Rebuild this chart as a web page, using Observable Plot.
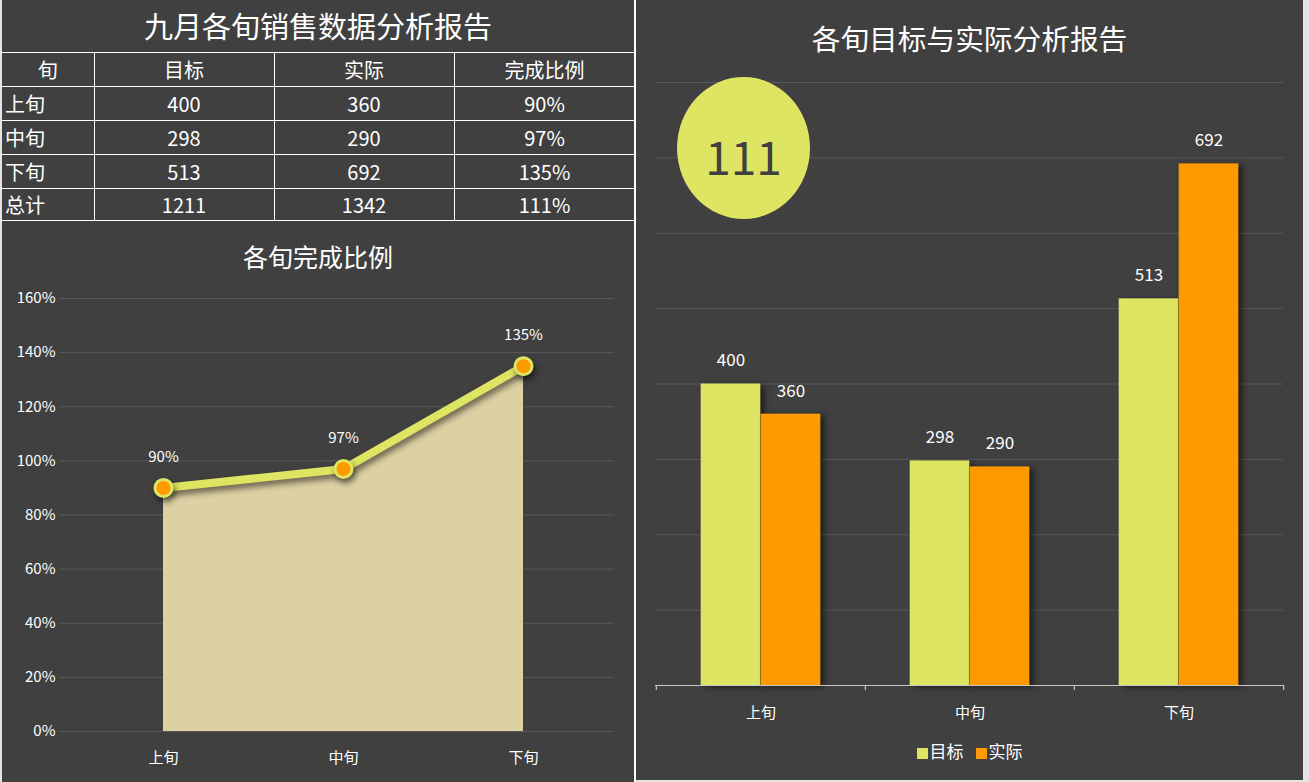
<!DOCTYPE html>
<html>
<head>
<meta charset="utf-8">
<script src="https://cdn.jsdelivr.net/npm/d3@7"></script>
<script src="https://cdn.jsdelivr.net/npm/@observablehq/plot@0.6"></script>
<style>
  html, body { margin: 0; padding: 0; }
  body { width: 1309px; height: 782px; background: #e4e4e4; position: relative; overflow: hidden;
         font-family: "Noto Sans CJK SC", "Noto Sans", sans-serif; color: #fff; }
  .abs { position: absolute; }
  #left { left: 2px; top: 0; width: 632px; height: 782px; background: #404040; }
  #divider { left: 634px; top: 0; width: 2px; height: 782px; background: #ffffff; }
  #right { left: 636px; top: 0; width: 667px; height: 780px; background: #404040; }
  #title1 { left: 2px; top: 0; width: 632px; height: 52px; line-height: 50px; text-align: center; font-size: 29px; }
  table { border-collapse: collapse; table-layout: fixed; }
  #tbl { left: 2px; top: 52px; width: 633px; }
  #tbl td { border: 1px solid #fff; color: #fff; font-size: 20px; text-align: center; padding: 0; height: 33px; line-height: 32px; }
  #tbl tr:first-child td { border-top: 1px solid #fff; }
  #tbl td:first-child { border-left: none; text-align: left; padding-left: 3px; }
  #tbl tr.hdr td:first-child { text-align: center; padding-left: 0; }
  #title2 { left: 2px; top: 238px; width: 632px; text-align: center; font-size: 25px; line-height: 36px; }
  #title3 { left: 636px; top: 18px; width: 667px; text-align: center; font-size: 28.7px; line-height: 40px; }
  #badge { left: 677px; top: 77px; width: 133px; height: 142px; border-radius: 50%; background: #dde562;
           color: #404040; font-size: 46px; text-align: center; line-height: 156px; }
  #legend { left: 636px; top: 738px; width: 667px; text-align: center; font-size: 17px; line-height: 26px; }
  #legend span.sw { display: inline-block; width: 11px; height: 11px; margin-right: 2px; vertical-align: -1px; }
  #legend span.it { margin: 0 6px; }
</style>
</head>
<body>
<div id="left" class="abs"></div>
<div id="divider" class="abs"></div>
<div id="right" class="abs"></div>
<div id="title1" class="abs">九月各旬销售数据分析报告</div>
<table id="tbl" class="abs"></table>
<div id="title2" class="abs">各旬完成比例</div>
<div id="chart1" class="abs" style="left:0;top:280px;"></div>
<div id="title3" class="abs">各旬目标与实际分析报告</div>
<div id="chart2" class="abs" style="left:636px;top:60px;"></div>
<div id="badge" class="abs"></div>
<div id="legend" class="abs"></div>
<script>
// ---- data ----
const periods = ["上旬", "中旬", "下旬"];
const targets = [400, 298, 513];
const actuals = [360, 290, 692];
const ratios = [0.90, 0.97, 1.35];
const ratioLabels = ["90%", "97%", "135%"];
const totalLabel = "总计";
const totalTarget = 1211;
const totalActual = 1342;
const totalRatioLabel = "111%";
const totalRatioBadge = "111";
const tableHeader = ["旬", "目标", "实际", "完成比例"];
const seriesNames = ["目标", "实际"];
const yTicksLeft = [0, 0.2, 0.4, 0.6, 0.8, 1.0, 1.2, 1.4, 1.6];
const yGridRight = [100, 200, 300, 400, 500, 600, 700, 800];

const YELLOW = "#dde562";
const ORANGE = "#ff9900";
const BEIGE = "#ddd0a3";
const GRID = "#595959";
const FONT = '"Noto Sans CJK SC", "Noto Sans", sans-serif';

// ---- table ----
const tbl = document.getElementById("tbl");
const colW = [92, 180, 180, 181];
const cg = document.createElement("colgroup");
colW.forEach(w => { const c = document.createElement("col"); c.style.width = w + "px"; cg.appendChild(c); });
tbl.appendChild(cg);
const rows = [tableHeader]
  .concat(periods.map((p, i) => [p, String(targets[i]), String(actuals[i]), ratioLabels[i]]))
  .concat([[totalLabel, String(totalTarget), String(totalActual), totalRatioLabel]]);
rows.forEach((r, ri) => {
  const tr = document.createElement("tr");
  if (ri === 0) tr.className = "hdr";
  r.forEach(v => { const td = document.createElement("td"); td.textContent = v; tr.appendChild(td); });
  if (ri === rows.length - 1) tr.querySelectorAll("td").forEach(td => { td.style.height = "31px"; td.style.lineHeight = "30px"; });
  tbl.appendChild(tr);
});

// ---- left chart ----
const lineData = periods.map((p, i) => ({period: p, ratio: ratios[i], label: ratioLabels[i]}));
const chart1 = Plot.plot({
  width: 634,
  height: 500,
  marginTop: 18,
  marginBottom: 49,
  marginLeft: 59,
  marginRight: 20,
  style: {background: "transparent", color: "#fff", fontFamily: FONT, fontSize: "15px", overflow: "visible"},
  x: {type: "point", domain: periods, range: [162, 523], padding: 0, label: null},
  y: {domain: [0, 1.6], label: null},
  marks: [
    Plot.gridY(yTicksLeft, {stroke: GRID, strokeOpacity: 1, strokeWidth: 1}),
    Plot.axisY(yTicksLeft, {tickSize: 0, tickPadding: 4, tickFormat: d => Math.round(d * 100) + "%", fontSize: 15, fill: "#fff", label: null}),
    Plot.axisX({tickSize: 0, tickPadding: 21, fontSize: 15, fill: "#fff", label: null}),
    Plot.areaY(lineData, {x: "period", y: "ratio", fill: BEIGE, curve: "linear"}),
    Plot.lineY(lineData, {x: "period", y: "ratio", stroke: YELLOW, strokeWidth: 8, curve: "linear"}),
    Plot.dot(lineData, {x: "period", y: "ratio", r: 8.5, fill: ORANGE, stroke: YELLOW, strokeWidth: 3}),
    Plot.text(lineData, {x: "period", y: "ratio", text: "label", dy: -31, fill: "#fff", fontSize: 15})
  ]
});
d3.select(chart1).selectAll('g[aria-label="line"], g[aria-label="dot"]').style("filter", "drop-shadow(2px 4px 3px rgba(0,0,0,0.55))");
document.getElementById("chart1").appendChild(chart1);

// ---- right chart ----
const barData = [];
periods.forEach((p, i) => {
  barData.push({period: p, series: seriesNames[0], value: targets[i]});
  barData.push({period: p, series: seriesNames[1], value: actuals[i]});
});
const W2 = 667, ML2 = 19, MR2 = 20;
const bw = (W2 - ML2 - MR2) / periods.length;
const barW = 60;
const outer = bw / 2;           // inset on the far side
const inner = bw / 2 - barW;    // inset on the near side
const tData = barData.filter(d => d.series === seriesNames[0]);
const aData = barData.filter(d => d.series === seriesNames[1]);
const chart2 = Plot.plot({
  width: W2,
  height: 720,
  marginTop: 22,
  marginBottom: 95,
  marginLeft: ML2,
  marginRight: MR2,
  style: {background: "transparent", color: "#fff", fontFamily: FONT, fontSize: "15px", overflow: "visible"},
  x: {type: "band", domain: periods, padding: 0, label: null},
  y: {domain: [0, 800], label: null, axis: null},
  marks: [
    Plot.gridY(yGridRight, {stroke: GRID, strokeOpacity: 1, strokeWidth: 1}),
    Plot.barY(tData, {x: "period", y: "value", fill: YELLOW, insetLeft: inner, insetRight: outer}),
    Plot.barY(aData, {x: "period", y: "value", fill: ORANGE, insetLeft: outer, insetRight: inner}),
    Plot.text(tData, {x: "period", y: "value", text: d => String(d.value), dx: -barW / 2, dy: -23, fill: "#fff", fontSize: 17}),
    Plot.text(aData, {x: "period", y: "value", text: d => String(d.value), dx: barW / 2, dy: -23, fill: "#fff", fontSize: 17}),
    Plot.ruleY([0], {stroke: "#c8c8c8", strokeWidth: 1.2}),
    Plot.ruleX(periods, {x: d => d, dx: -bw / 2, y1: 0, y2: -6.6, stroke: "#c8c8c8", strokeWidth: 1.2}),
    Plot.ruleX([periods[periods.length - 1]], {x: d => d, dx: bw / 2, y1: 0, y2: -6.6, stroke: "#c8c8c8", strokeWidth: 1.2}),
    Plot.axisX({tickSize: 0, tickPadding: 22, fontSize: 15, fill: "#fff", label: null})
  ]
});
d3.select(chart2).selectAll('g[aria-label="bar"]').style("filter", "drop-shadow(4px 2px 3px rgba(0,0,0,0.55))");
document.getElementById("chart2").appendChild(chart2);

// ---- badge & legend ----
document.getElementById("badge").textContent = totalRatioBadge;
const legend = document.getElementById("legend");
[[seriesNames[0], YELLOW], [seriesNames[1], ORANGE]].forEach(([name, c]) => {
  const it = document.createElement("span");
  it.className = "it";
  const sw = document.createElement("span");
  sw.className = "sw";
  sw.style.background = c;
  it.appendChild(sw);
  it.appendChild(document.createTextNode(name));
  legend.appendChild(it);
});
</script>
</body>
</html>
